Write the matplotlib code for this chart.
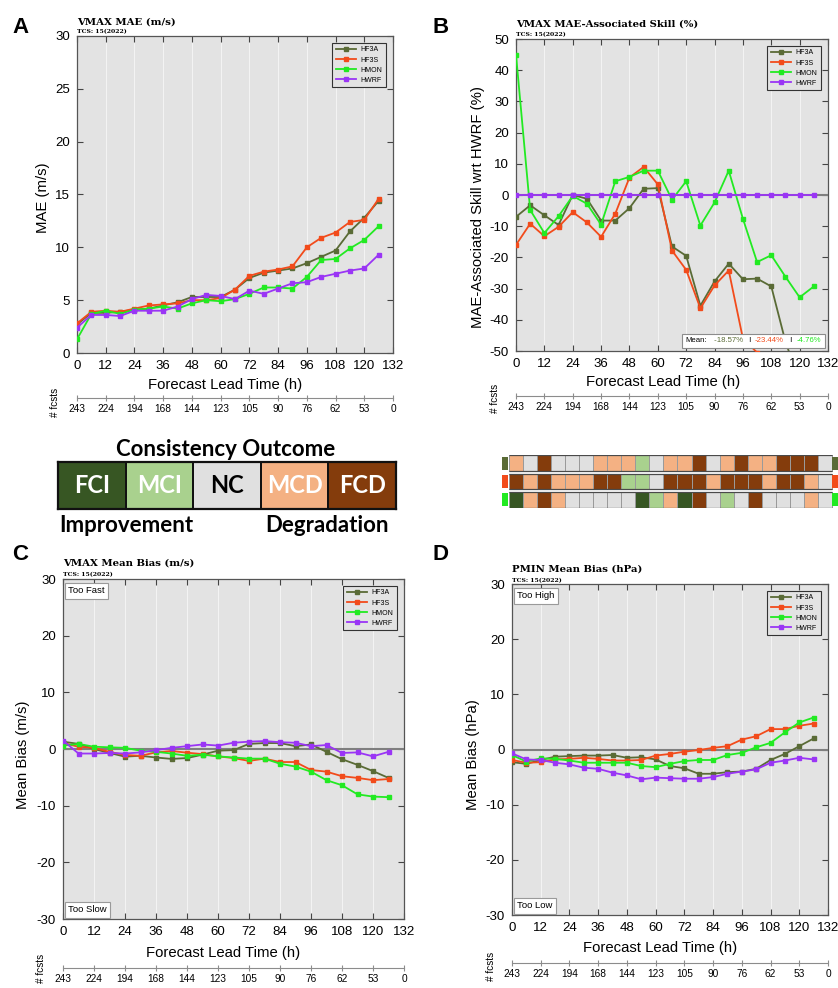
import numpy as np
import matplotlib
matplotlib.use("Agg")
import matplotlib.pyplot as plt
from matplotlib.colors import ListedColormap, BoundaryNorm
from matplotlib.offsetbox import TextArea, HPacker, AnchoredOffsetbox

plt.rcParams['font.family'] = ['Liberation Sans', 'DejaVu Sans']
plt.rcParams['axes.unicode_minus'] = False

W, H = 838, 988
fig = plt.figure(figsize=(W / 100, H / 100), dpi=100)


def px_rect(l, t, r, b):
    return [l / W, 1 - b / H, (r - l) / W, (b - t) / H]


def ftext(x, y, s, **kw):
    return fig.text(x / W, 1 - y / H, s, **kw)


# ---------------------------------------------------------------- data
lead_hours = [0, 6, 12, 18, 24, 30, 36, 42, 48, 54, 60, 66, 72, 78, 84, 90,
              96, 102, 108, 114, 120, 126]
tick_hours = [0, 12, 24, 36, 48, 60, 72, 84, 96, 108, 120, 132]
fcst_counts = ['243', '224', '194', '168', '144', '123', '105', '90', '76',
               '62', '53', '0']

models = ['HF3A', 'HF3S', 'HMON', 'HWRF']
model_colors = {'HF3A': '#5a6b36', 'HF3S': '#f24b1b',
                'HMON': '#22ea22', 'HWRF': '#9a35f5'}

# VMAX mean absolute error (m/s)
mae_hf3a = [2.7, 3.8, 3.8, 3.9, 4.1, 4.2, 4.5, 4.8, 5.3, 5.3, 5.3, 6.0, 7.1,
            7.6, 7.8, 8.0, 8.5, 9.1, 9.7, 11.5, 12.8, 14.4]
mae_hf3s = [2.8, 3.9, 4.0, 3.9, 4.2, 4.5, 4.6, 4.7, 5.0, 5.0, 5.2, 6.0, 7.3,
            7.7, 7.9, 8.2, 10.0, 10.9, 11.4, 12.4, 12.6, 14.6]
mae_hmon = [1.3, 3.7, 4.0, 3.7, 4.1, 4.2, 4.4, 4.2, 4.7, 5.0, 4.9, 5.1, 5.6,
            6.2, 6.2, 6.1, 7.2, 8.8, 8.9, 9.9, 10.7, 12.0]
mae_hwrf = [2.4, 3.6, 3.6, 3.5, 4.0, 4.0, 4.0, 4.4, 5.1, 5.5, 5.4, 5.1, 5.9,
            5.6, 6.1, 6.6, 6.7, 7.2, 7.5, 7.8, 8.0, 9.3]

# VMAX MAE-associated skill relative to HWRF (%)
skill_hf3a = [-7.0, -3.3, -6.5, -9.6, 0.0, -1.2, -8.2, -8.2, -4.2, 2.0, 2.2,
              -16.5, -19.5, -35.5, -27.7, -22.0, -27.0, -26.8, -29.3, -47.0,
              -60.0, -55.0]
skill_hf3s = [-16.0, -9.2, -13.2, -10.2, -5.5, -8.8, -13.4, -6.0, 5.6, 9.0,
              3.4, -17.8, -24.0, -36.3, -29.0, -24.2, -46.0, -50.5, -52.0,
              -59.0, -57.5, -57.0]
skill_hmon = [45.0, -4.8, -12.2, -6.8, -0.3, -2.8, -9.5, 4.4, 5.8, 7.8, 7.8,
              -1.5, 4.4, -9.8, -2.4, 7.8, -7.6, -21.5, -19.3, -26.2, -32.8,
              -29.3]
skill_hwrf = [0.0] * 22
skill_means = ['-18.57%', '-23.44%', '-4.76%']

# VMAX mean bias (m/s)
vbias_hf3a = [1.3, 0.9, 0.0, -0.7, -1.35, -1.2, -1.5, -1.75, -1.6, -1.0, -0.3,
              -0.2, 0.9, 1.05, 1.05, 0.5, 0.8, -0.5, -1.8, -2.8, -3.9, -5.1]
vbias_hf3s = [1.05, 0.4, 0.2, -0.5, -1.05, -1.2, -0.6, -0.35, -0.65, -0.9,
              -1.3, -1.6, -2.1, -1.7, -2.3, -2.3, -3.7, -4.0, -4.8, -5.1,
              -5.5, -5.3]
vbias_hmon = [0.6, 0.9, 0.4, 0.3, 0.2, -0.3, -0.5, -0.8, -1.2, -1.0, -1.3,
              -1.5, -1.7, -1.7, -2.6, -3.1, -4.0, -5.5, -6.4, -8.0, -8.4, -8.5]
vbias_hwrf = [1.5, -0.8, -0.8, -0.7, -0.8, -0.6, -0.2, 0.2, 0.5, 0.8, 0.6,
              1.1, 1.3, 1.4, 1.2, 1.1, 0.5, 0.7, -0.7, -0.6, -1.3, -0.5]

# PMIN mean bias (hPa)
pbias_hf3a = [-2.3, -2.6, -1.9, -1.3, -1.2, -1.1, -1.1, -1.0, -1.5, -1.4,
              -1.8, -3.0, -3.4, -4.4, -4.4, -4.1, -4.0, -3.5, -1.9, -0.8,
              0.6, 2.0]
pbias_hf3s = [-1.9, -2.4, -2.3, -1.8, -1.7, -1.5, -1.7, -2.0, -2.0, -1.9,
              -1.1, -0.8, -0.4, -0.1, 0.3, 0.6, 1.8, 2.4, 3.7, 3.7, 4.3, 4.7]
pbias_hmon = [-1.0, -2.2, -1.6, -1.7, -2.0, -2.4, -2.4, -2.4, -2.4, -3.0,
              -3.2, -2.6, -2.1, -1.9, -1.9, -1.0, -0.6, 0.4, 1.2, 3.1, 4.9,
              5.8]
pbias_hwrf = [-0.7, -1.8, -1.9, -2.4, -2.7, -3.3, -3.5, -4.2, -4.7, -5.4,
              -5.1, -5.2, -5.3, -5.3, -5.0, -4.4, -4.0, -3.6, -2.4, -2.0,
              -1.5, -1.8]

# consistency outcome per lead time (0..132 h) for each model vs HWRF
outcome_names = ['FCI', 'MCI', 'NC', 'MCD', 'FCD']
outcome_colors = ['#375623', '#a9d18e', '#e0e0e0', '#f4b183', '#843c0c']
consistency_hf3a = ['MCD', 'NC', 'FCD', 'NC', 'NC', 'NC', 'MCD', 'MCD', 'MCD',
                    'MCI', 'NC', 'MCD', 'MCD', 'FCD', 'NC', 'MCD', 'FCD',
                    'MCD', 'MCD', 'FCD', 'FCD', 'FCD', 'NC']
consistency_hf3s = ['FCD', 'MCD', 'FCD', 'MCD', 'MCD', 'MCD', 'FCD', 'FCD',
                    'MCI', 'MCI', 'NC', 'FCD', 'FCD', 'FCD', 'MCD', 'FCD',
                    'FCD', 'FCD', 'MCD', 'FCD', 'FCD', 'MCD', 'NC']
consistency_hmon = ['FCI', 'MCD', 'FCD', 'MCD', 'NC', 'NC', 'NC', 'NC', 'NC',
                    'FCI', 'MCI', 'MCD', 'FCI', 'FCD', 'NC', 'MCI', 'NC',
                    'FCD', 'NC', 'NC', 'NC', 'MCD', 'NC']

# ---------------------------------------------------------------- styling
AX_BG = '#e3e3e3'
SPINE = '#555555'
SERIF = ['DejaVu Serif']
KEY_FONT = ['Lato', 'DejaVu Sans']


def draw_panel(box, series, ylim, yticks, ylabel, title, title_base,
               fc_y, fc_label_xy, letter, letter_xy, ylabel_xy, xlabel_y,
               zero_line=True):
    l, t, r, b = box
    ax = fig.add_axes(px_rect(l, t, r, b))
    ax.set_facecolor(AX_BG)
    for name, vals in zip(models, series):
        ax.plot(lead_hours, vals, color=model_colors[name], lw=1.3,
                marker='s', ms=2.2, label=name, zorder=4)
    if zero_line:
        ax.axhline(0, color='#7f7f7f', lw=1.5, zorder=3)
    ax.set_xlim(0, 132)
    ax.set_ylim(*ylim)
    ax.set_xticks(tick_hours)
    ax.set_yticks(yticks)
    ax.grid(axis='x', color='#f3f3f3', lw=0.8)
    ax.set_axisbelow(True)
    ax.tick_params(direction='in', top=True, right=True, length=4,
                   width=0.8, color='#444444', labelsize=9.5, pad=5)
    for sp in ax.spines.values():
        sp.set_color(SPINE)
        sp.set_linewidth(0.9)

    ax.set_xlabel('Forecast Lead Time (h)', fontsize=10.7)
    ax.xaxis.label.set_va('center')
    ax.xaxis.set_label_coords(0.47, (b - xlabel_y) / (b - t))
    ax.set_ylabel(ylabel, fontsize=10.7)
    ax.yaxis.label.set_va('center')
    ax.yaxis.set_label_coords((ylabel_xy[0] - l) / (r - l),
                              (b - ylabel_xy[1]) / (b - t))

    leg = ax.legend(loc='upper right',
                    bbox_to_anchor=(1 - 7 / (r - l), 1 - 7 / (b - t)),
                    borderaxespad=0, fontsize=5, handlelength=3.0,
                    numpoints=1, handletextpad=0.6, labelspacing=0.45,
                    borderpad=0.5, fancybox=False, framealpha=1)
    leg.get_frame().set_facecolor(AX_BG)
    leg.get_frame().set_edgecolor('#333333')
    leg.get_frame().set_linewidth(0.8)

    # number of forecasts along a second axis below
    sec = ax.secondary_xaxis(-(fc_y - b) / (b - t))
    sec.set_xticks(tick_hours, labels=fcst_counts)
    sec.tick_params(direction='inout', length=5, width=0.8,
                    color='#8c8c8c', labelsize=7.3, pad=1.5)
    sec.spines['bottom'].set_color('#8c8c8c')
    sec.spines['bottom'].set_linewidth(0.8)
    ftext(fc_label_xy[0], fc_label_xy[1], '# fcsts', rotation=90,
          ha='center', va='center', fontsize=7.2)

    ftext(l, title_base[0], title, family=SERIF, weight='bold',
          fontsize=7.3, va='baseline')
    ftext(l, title_base[1], 'TCS: 15(2022)', family=SERIF, weight='bold',
          fontsize=4.4, va='baseline')
    ftext(letter_xy[0], letter_xy[1], letter, fontsize=16, weight='bold',
          va='baseline')
    return ax


def corner_note(ax, text, top):
    ax.text(0.016, 0.978 if top else 0.014, text, transform=ax.transAxes,
            ha='left', va='top' if top else 'bottom', fontsize=6.8,
            bbox=dict(boxstyle='square,pad=0.35', fc='white', ec='#9a9a9a',
                      lw=0.8), zorder=6)


# A: VMAX MAE
axA = draw_panel((77, 36, 393, 353),
                 [mae_hf3a, mae_hf3s, mae_hmon, mae_hwrf],
                 (0, 30), [0, 5, 10, 15, 20, 25, 30], 'MAE (m/s)',
                 'VMAX MAE (m/s)', (25, 33.5), 398, (55, 402), 'A', (12, 33),
                 (43, 198), 385, zero_line=False)

# B: MAE-associated skill
axB = draw_panel((516, 39, 828, 351),
                 [skill_hf3a, skill_hf3s, skill_hmon, skill_hwrf],
                 (-50, 50), list(range(-50, 51, 10)),
                 'MAE-Associated Skill wrt HWRF (%)',
                 'VMAX MAE-Associated Skill (%)', (27, 36), 396, (495, 398),
                 'B', (432, 33), (478, 207), 382)

parts = [TextArea('Mean:', textprops=dict(color='black', fontsize=5.6)),
         TextArea(' ' + skill_means[0],
                  textprops=dict(color=model_colors['HF3A'], fontsize=5.6)),
         TextArea(' I', textprops=dict(color='black', fontsize=5.6)),
         TextArea(skill_means[1],
                  textprops=dict(color=model_colors['HF3S'], fontsize=5.6)),
         TextArea(' I', textprops=dict(color='black', fontsize=5.6)),
         TextArea(skill_means[2],
                  textprops=dict(color=model_colors['HMON'], fontsize=5.6))]
mean_box = AnchoredOffsetbox(loc='lower right',
                             child=HPacker(children=parts, pad=0, sep=3),
                             pad=0.25, borderpad=0.25, frameon=True)
mean_box.patch.set_facecolor('white')
mean_box.patch.set_edgecolor('#8c8c8c')
mean_box.patch.set_linewidth(0.8)
mean_box.zorder = 6
axB.add_artist(mean_box)

# C: VMAX mean bias
axC = draw_panel((63, 579, 404, 919),
                 [vbias_hf3a, vbias_hf3s, vbias_hmon, vbias_hwrf],
                 (-30, 30), [-30, -20, -10, 0, 10, 20, 30], 'Mean Bias (m/s)',
                 'VMAX Mean Bias (m/s)', (566, 576), 968, (41, 968), 'C',
                 (12, 560), (23, 755), 953)
corner_note(axC, 'Too Fast', True)
corner_note(axC, 'Too Slow', False)

# D: PMIN mean bias
axD = draw_panel((512, 584, 828, 915),
                 [pbias_hf3a, pbias_hf3s, pbias_hmon, pbias_hwrf],
                 (-30, 30), [-30, -20, -10, 0, 10, 20, 30], 'Mean Bias (hPa)',
                 'PMIN Mean Bias (hPa)', (572, 582), 963, (491, 966), 'D',
                 (432, 560), (473, 755), 948)
corner_note(axD, 'Too High', True)
corner_note(axD, 'Too Low', False)

# ---------------------------------------------------------------- consistency key
cmap = ListedColormap(outcome_colors)
norm = BoundaryNorm(np.arange(-0.5, 5.5, 1), cmap.N)

axK = fig.add_axes(px_rect(58, 462, 396, 509))
axK.pcolormesh(np.arange(6), [0, 1], [np.arange(5)], cmap=cmap, norm=norm,
               edgecolors='#111111', linewidth=1.4)
for i, name in enumerate(outcome_names):
    axK.text(i + 0.5, 0.5, name, ha='center', va='center', fontsize=17,
             weight='bold', family=KEY_FONT,
             color='black' if name == 'NC' else 'white')
axK.set_xlim(0, 5)
axK.set_ylim(0, 1)
axK.set_xticks([])
axK.set_yticks([])
for sp in axK.spines.values():
    sp.set_linewidth(1.6)
    sp.set_color('#111111')
ftext(226, 449, 'Consistency Outcome', ha='center', va='center',
      fontsize=16, weight='bold', family=KEY_FONT)
ftext(59, 526, 'Improvement', ha='left', va='center', fontsize=16,
      weight='bold', family=KEY_FONT)
ftext(327, 526, 'Degradation', ha='center', va='center', fontsize=16,
      weight='bold', family=KEY_FONT)

# ---------------------------------------------------------------- consistency grid
rows = [consistency_hf3a, consistency_hf3s, consistency_hmon]
row_models = ['HF3A', 'HF3S', 'HMON']
step = 1.15
axG = fig.add_axes(px_rect(500, 455, 838, 508))
for r, row in enumerate(rows):
    codes = [[outcome_names.index(c) for c in row]]
    y0 = r * step
    axG.pcolormesh(np.arange(len(row) + 1), [y0, y0 + 1], codes, cmap=cmap,
                   norm=norm, edgecolors='#9a9a9a', linewidth=0.6)
    axG.hlines([y0, y0 + 1], 0, len(row), color='#4a4a4a', lw=0.9)
    color = model_colors[row_models[r]]
    axG.bar([-0.3, len(row) + 0.22], [0.8, 0.8], width=[0.44, 0.42],
            bottom=y0 + 0.1, color=color, linewidth=0)
axG.set_xlim(-0.64, 23.43)
axG.set_ylim(2 * step + 1.02, -0.02)
axG.axis('off')

fig.savefig('out.png', dpi=100)
